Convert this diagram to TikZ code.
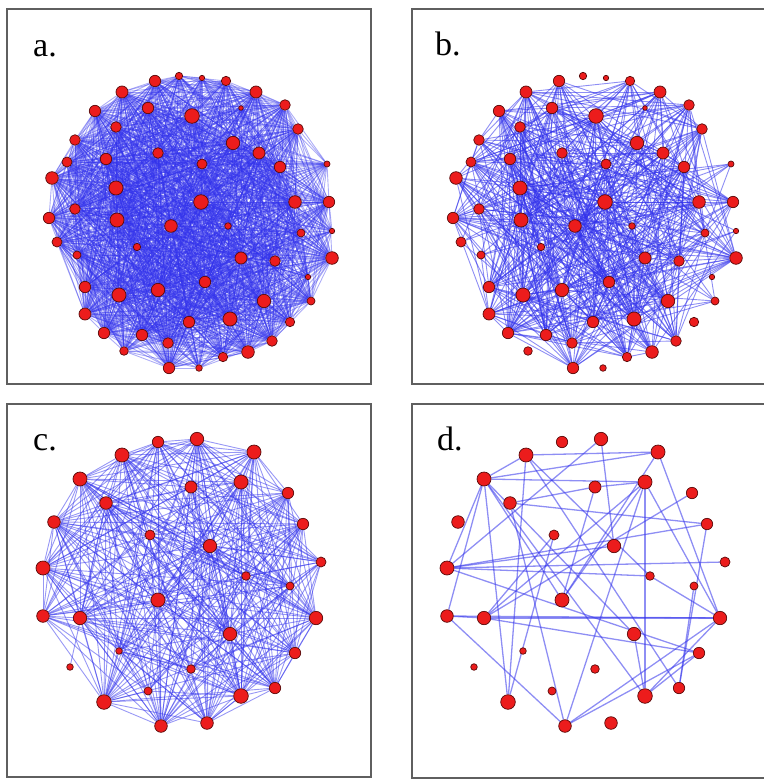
\documentclass[tikz,border=0pt]{standalone}
\usepackage{fontspec}
\setmainfont{Liberation Serif}
\usetikzlibrary{backgrounds}

\definecolor{linkblue}{RGB}{50,50,235}
\definecolor{nodered}{RGB}{236,28,28}
\definecolor{rimred}{RGB}{90,10,10}
\definecolor{framegray}{RGB}{95,95,95}

\tikzset{
  vertex/.style={circle, fill=nodered, draw=rimred, line width=0.7pt, inner sep=0pt},
  link/.style={draw=linkblue, line width=0.9pt},
  frame/.style={draw=framegray, line width=1.2pt},
  panellabel/.style={anchor=base west, inner sep=0pt, font=\fontsize{34}{34}\selectfont},
}

% layout of panels a and b: x/y/radius/kept in b
\newcommand\layoutA{155/81/5.7/1, 179/76/3.7/0, 202/78/2.7/0, 226/81/4.7/1, 256/92/6/1,
  285/105/5.3/1, 241/108/2.3/0.3, 122/92/6/1, 95/111/5.7/1, 148/108/5.7/1,
  192/116/7.3/1, 116/127/5.3/1, 298/129/5.3/1, 75/140/5.3/1, 233/143/6.7/1,
  158/153/5.3/1, 259/153/6/1, 106/159/5.7/1, 67/162/5/1, 202/164/5/1,
  280/167/5.7/1, 327/164/3/0.5, 52/178/6.3/1, 116/188/7/1, 201/202/7.3/1,
  295/202/6.3/1, 329/202/5.7/1, 75/209/5.3/1, 49/218/5.7/1, 117/220/7/1,
  171/226/6.3/1, 228/226/3.3/0.6, 301/233/4/1, 332/231/2.7/0.5, 57/242/5/0.2,
  137/247/3.7/1, 77/255/4/0.4, 241/258/6/1, 275/261/5.3/1, 332/258/6.3/1,
  308/277/2.7/0, 205/282/5.7/1, 85/287/5.7/1, 119/295/7/1, 158/290/6.7/1,
  264/301/6.7/1, 311/301/4/0.4, 85/314/6/1, 189/322/5.7/1, 230/319/7/1,
  290/322/4.7/0, 104/333/5.7/1, 142/335/5.7/1, 168/343/5.3/1, 272/341/5.3/1,
  124/351/4.3/0, 223/357/4.7/1, 248/352/6.3/1, 169/368/5.7/1, 199/368/3.3/0}

% layout of panels c and d: x/y/radius/weight factor
\newcommand\layoutC{158/442/5.7/1, 197/439/6.7/1, 122/455/7/1, 254/452/7/1, 80/479/7/1,
  191/487/6/1, 241/482/7/1, 288/493/5.7/1, 106/503/6.3/1, 54/522/6.3/1,
  303/524/5.7/1, 150/535/5/1, 210/546/6.7/1, 43/568/7/1, 321/562/5/1,
  246/576/4.3/1, 290/586/4/1, 158/600/7/1, 43/616/6.3/1, 80/618/6.7/1,
  316/618/6.7/1, 230/634/6.7/1, 119/651/3.3/1, 295/653/5.7/1, 70/667/3.3/0.1,
  191/669/4.3/1, 148/691/4/1, 275/688/5.7/1, 104/702/7.3/1, 241/696/7.3/1,
  161/726/6.3/1, 207/723/6.3/1}

\begin{document}
\begin{tikzpicture}[x=1pt, y=-1pt]
\useasboundingbox (0,0) rectangle (763,779);

% nodes of a and b
\foreach \x/\y/\r/\on [count=\i] in \layoutA {
  \node[vertex, minimum size={2*\r pt}] (a\i) at (\x,\y) {};
  \node[vertex, minimum size={2*\r pt}] (b\i) at (\x+404,\y) {};
  \pgfmathsetmacro\wa{\r/7}
  \pgfmathsetmacro\wb{\on*\r/7}
  \expandafter\xdef\csname wa\i\endcsname{\wa}
  \expandafter\xdef\csname wb\i\endcsname{\wb}
}

% nodes of c and d
\foreach \x/\y/\r/\f [count=\i] in \layoutC {
  \node[vertex, minimum size={2*\r pt}] (c\i) at (\x,\y) {};
  \node[vertex, minimum size={2*\r pt}] (d\i) at (\x+404,\y) {};
  \pgfmathsetmacro\wc{\f*\r/7}
  \expandafter\xdef\csname wc\i\endcsname{\wc}
}

\begin{pgfonlayer}{background}
  \pgfmathsetseed{2718}
  % a: dense network, b: its strong links only
  \foreach \i in {1,...,59}{
    \pgfmathtruncatemacro\jfrom{\i+1}
    \foreach \j in {\jfrom,...,60}{
      \pgfmathsetmacro\pa{1.5*\csname wa\i\endcsname*\csname wa\j\endcsname}
      \pgfmathsetmacro\pb{0.62*\csname wb\i\endcsname*\csname wb\j\endcsname}
      \pgfmathrnd\let\ra\pgfmathresult
      \ifdim\ra pt<\pa pt \draw[link, opacity=0.4] (a\i) -- (a\j);\fi
      \ifdim\ra pt<\pb pt \draw[link, opacity=0.55] (b\i) -- (b\j);\fi
    }
  }
  % c
  \foreach \i in {1,...,31}{
    \pgfmathtruncatemacro\jfrom{\i+1}
    \foreach \j in {\jfrom,...,32}{
      \pgfmathsetmacro\pc{1.05*\csname wc\i\endcsname*\csname wc\j\endcsname}
      \pgfmathrnd\let\rc\pgfmathresult
      \ifdim\rc pt<\pc pt \draw[link, opacity=0.5] (c\i) -- (c\j);\fi
    }
  }
  % d
  \foreach \s/\t in {3/4, 4/5, 3/5, 5/7, 6/7, 6/9, 6/18, 2/13, 2/14, 5/14,
    5/19, 5/29, 3/29, 12/29, 5/18, 5/30, 5/22, 3/16, 3/28, 7/30,
    7/18, 4/18, 7/21, 4/21, 7/31, 7/20, 14/11, 14/13, 14/15, 14/16,
    14/24, 9/11, 8/20, 11/28, 17/28, 16/21, 19/20, 19/21, 20/21, 19/31,
    20/24, 21/30, 21/31, 24/31, 24/30, 22/30, 12/20, 9/31}
    \draw[link, line width=1.3pt, opacity=0.55] (d\s) -- (d\t);
\end{pgfonlayer}

% frames and labels
\draw[frame] (7,9) rectangle (371,384);
\draw[frame] (412,9) rectangle (768,384);
\draw[frame] (7,404) rectangle (371,777);
\draw[frame] (412,404) rectangle (768,778);
\node[panellabel] (la) at (33,56) {a.};
\node[panellabel] (lb) at (435,55) {b.};
\node[panellabel] (lc) at (33,450) {c.};
\node[panellabel] (ld) at (437,450) {d.};
\end{tikzpicture}
\end{document}
